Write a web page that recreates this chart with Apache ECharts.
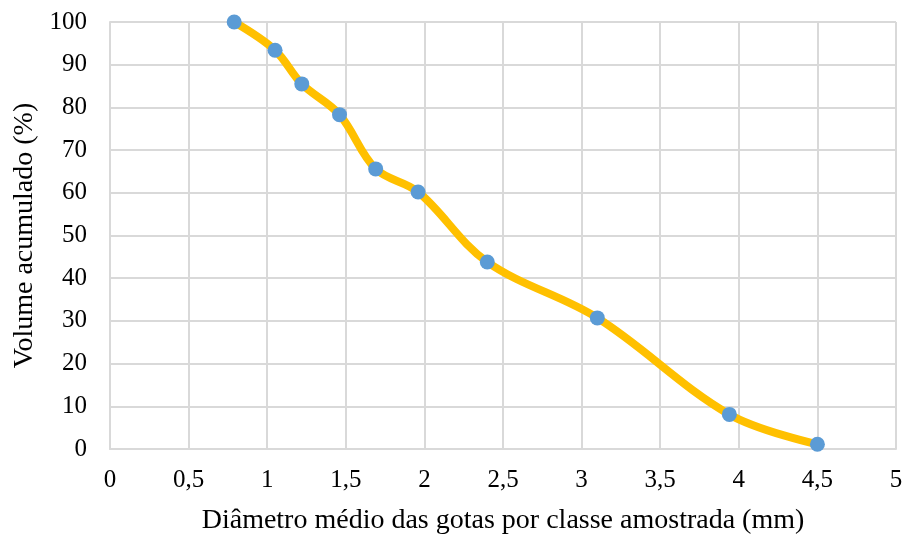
<!DOCTYPE html>
<html>
<head>
<meta charset="utf-8">
<script src="https://cdn.jsdelivr.net/npm/echarts@6/dist/echarts.min.js"></script>
<style>
  html, body { margin: 0; padding: 0; background: #fff; }
  #chart { width: 906px; height: 535px; }
</style>
</head>
<body>
<div id="chart"></div>
<script>
// diâmetro médio (mm) e volume acumulado (%)
const diametro = [0.79, 1.05, 1.22, 1.46, 1.69, 1.96, 2.40, 3.10, 3.94, 4.50]
const volume = [100, 93.4, 85.5, 78.3, 65.6, 60.2, 43.8, 30.7, 8.1, 1.1]

const pontos = diametro.map((d, i) => [d, volume[i]])

const font = 'Liberation Serif, Times New Roman, serif'

const chart = echarts.init(document.getElementById('chart'))
chart.setOption({
  animation: false,
  grid: { left: 110, right: 10, top: 22, bottom: 86, outerBoundsMode: 'none', containLabel: false },
  xAxis: {
    type: 'value',
    min: 0,
    max: 5,
    interval: 0.5,
    name: 'Diâmetro médio das gotas por classe amostrada (mm)',
    nameLocation: 'middle',
    nameGap: 58,
    nameTextStyle: { fontFamily: font, fontSize: 28, color: '#000' },
    axisLine: { show: true, lineStyle: { color: '#d9d9d9', width: 2 } },
    axisTick: { show: false },
    axisLabel: {
      fontFamily: font, fontSize: 25, color: '#000', margin: 19,
      formatter: v => String(v).replace('.', ',')
    },
    splitLine: { show: true, lineStyle: { color: '#d9d9d9', width: 2 } }
  },
  yAxis: {
    type: 'value',
    min: 0,
    max: 100,
    interval: 10,
    name: 'Volume acumulado (%)',
    nameLocation: 'middle',
    nameGap: 68,
    nameTextStyle: { fontFamily: font, fontSize: 28, color: '#000' },
    axisLine: { show: true, lineStyle: { color: '#d9d9d9', width: 2 } },
    axisTick: { show: false },
    axisLabel: { fontFamily: font, fontSize: 25, color: '#000', margin: 23 },
    splitLine: { show: true, lineStyle: { color: '#d9d9d9', width: 2 } }
  },
  series: [
    {
      type: 'line',
      data: pontos,
      smooth: 0.35,
      symbol: 'circle',
      symbolSize: 15,
      lineStyle: { color: '#FFC000', width: 8 },
      itemStyle: { color: '#5B9BD5' }
    }
  ]
})
</script>
</body>
</html>
